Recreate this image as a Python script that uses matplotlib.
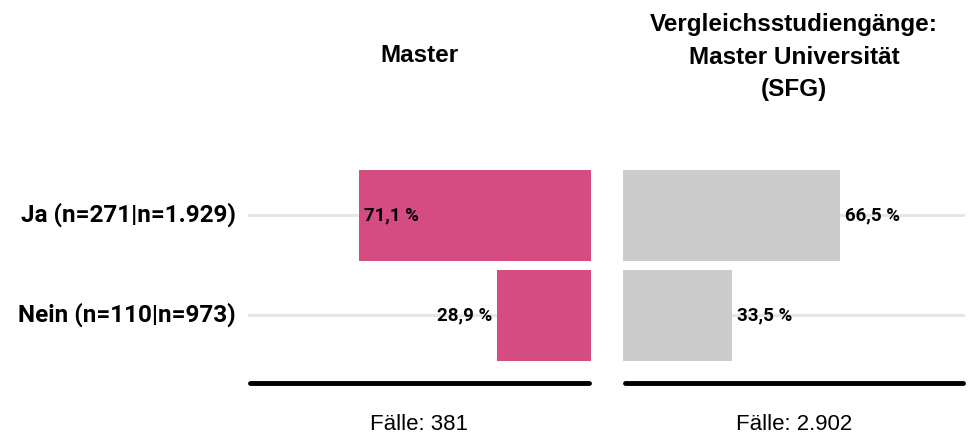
import matplotlib
matplotlib.use("Agg")
import matplotlib.pyplot as plt
import matplotlib.transforms as mtransforms

categories = ["Ja (n=271|n=1.929)", "Nein (n=110|n=973)"]
master_values = [71.1, 28.9]
vergleich_values = [66.5, 33.5]
master_labels = ["71,1 %", "28,9 %"]
vergleich_labels = ["66,5 %", "33,5 %"]
title_left = "Master"
title_right = "Vergleichsstudiengänge:\nMaster Universität\n(SFG)"
cases_left = "Fälle: 381"
cases_right = "Fälle: 2.902"

narrow = "Roboto"

fig = plt.figure(figsize=(9.73, 4.41), dpi=100)
ax_l = fig.add_axes([248/973, 58/441, 343/973, 236/441])
ax_r = fig.add_axes([623/973, 58/441, 342/973, 236/441])

pos = list(range(len(categories)))
pink = "#d44c82"
gray = "#cccccc"

for ax, vals, col in [(ax_l, master_values, pink), (ax_r, vergleich_values, gray)]:
    for p in pos:
        ax.axhline(p, color="#e6e6e6", lw=2.2, zorder=0)
    ax.barh(pos, vals, height=0.91, color=col, zorder=2)
    ax.set_xlim(0, 105)
    ax.set_ylim(1.68, -0.68)
    for s in ax.spines.values():
        s.set_visible(False)
    ax.set_xticks([])
    ax.set_yticks([])
    ax.plot([0.005, 0.995], [0, 0], transform=ax.transAxes, color="black", lw=3.5,
            solid_capstyle="round", clip_on=False, zorder=3)

ax_l.set_xlim(105, 0)

fs_val = 13.5
off_r = mtransforms.offset_copy(ax_l.transData, fig=fig, x=5, y=0, units="dots")
off_l = mtransforms.offset_copy(ax_l.transData, fig=fig, x=-4, y=0, units="dots")
ax_l.text(master_values[0], pos[0], master_labels[0], transform=off_r, ha="left", va="center",
          fontsize=fs_val, fontweight="bold", family=narrow, zorder=4)
ax_l.text(master_values[1], pos[1], master_labels[1], transform=off_l, ha="right", va="center",
          fontsize=fs_val, fontweight="bold", family=narrow, zorder=4)

off_rr = mtransforms.offset_copy(ax_r.transData, fig=fig, x=5, y=0, units="dots")
for p, v, lab in zip(pos, vergleich_values, vergleich_labels):
    ax_r.text(v, p, lab, transform=off_rr, ha="left", va="center",
              fontsize=fs_val, fontweight="bold", family=narrow, zorder=4)

for p, c in zip(pos, categories):
    ax_l.text(-0.035, p, c, transform=ax_l.get_yaxis_transform(), ha="right", va="center",
              fontsize=17.5, fontweight="bold", family=narrow)

fig.text((248 + 591) / 2 / 973, 1 - 55/441, title_left, ha="center", va="center",
         fontsize=17.5, fontweight="bold", family="Liberation Sans")
fig.text((623 + 965) / 2 / 973, 1 - 57/441, title_right, ha="center", va="center",
         fontsize=17.5, fontweight="bold", family="Liberation Sans", linespacing=1.52)

fig.text((248 + 591) / 2 / 973, 1 - 425/441, cases_left, ha="center", va="center",
         fontsize=16, family="Liberation Sans")
fig.text((623 + 965) / 2 / 973, 1 - 425/441, cases_right, ha="center", va="center",
         fontsize=16, family="Liberation Sans")

fig.savefig("out.png", dpi=100)
